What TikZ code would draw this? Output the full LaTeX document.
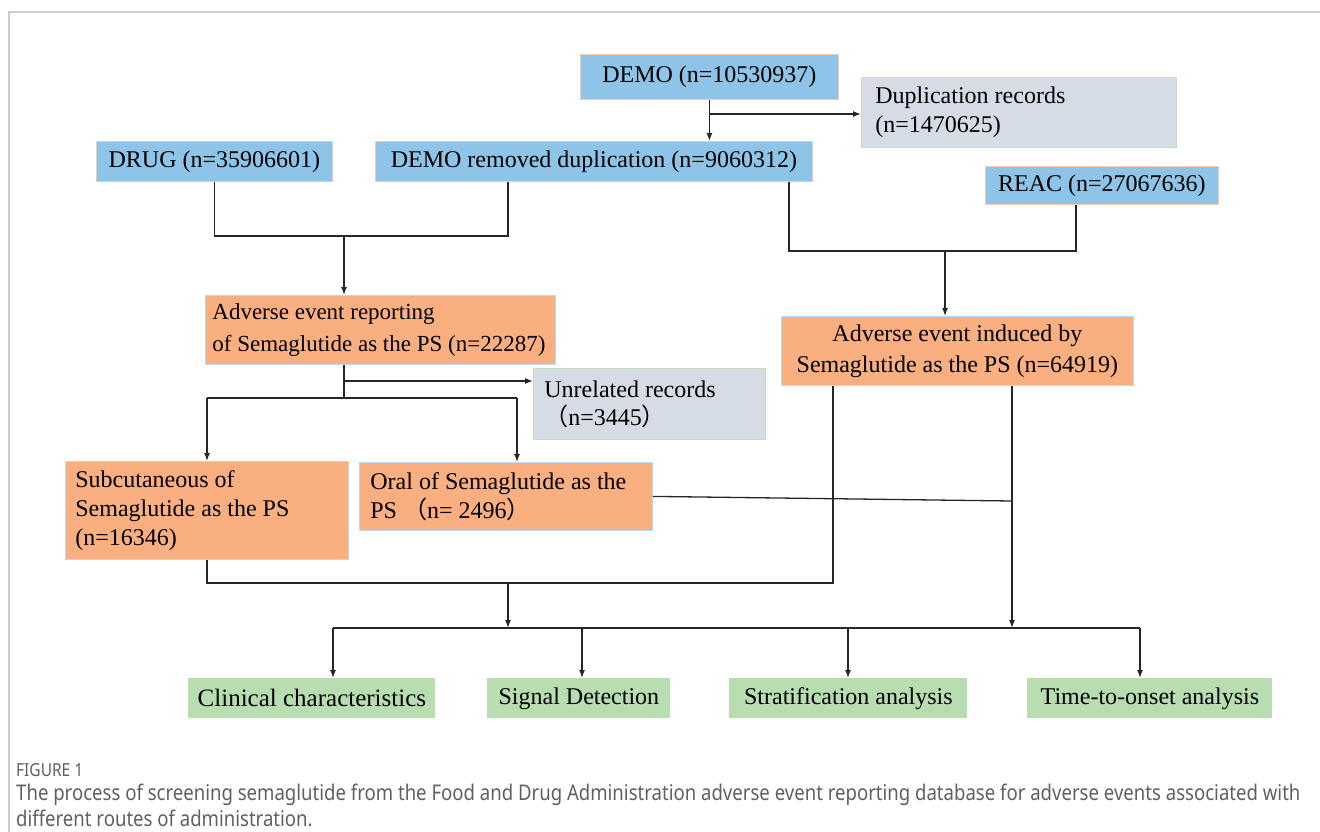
\documentclass[tikz,border=0pt]{standalone}
\usepackage{fontspec}
\setmainfont{Liberation Serif}
\newfontfamily\capfont[FakeStretch=0.86]{Noto Sans}
\newfontfamily\cjk{Noto Sans CJK SC}
\usetikzlibrary{arrows.meta}
\definecolor{bluefill}{HTML}{8DC4E8}
\definecolor{peach}{HTML}{F6C9AA}
\definecolor{orangefill}{HTML}{F9AF7F}
\definecolor{lightblue}{HTML}{BDD7EE}
\definecolor{grayfill}{HTML}{D6DCE5}
\definecolor{lightgreen}{HTML}{C5E0B4}
\definecolor{greenfill}{HTML}{B7DDB0}
\definecolor{framegray}{HTML}{CCCCCC}
\definecolor{captext}{HTML}{606060}
\begin{document}
\begin{tikzpicture}[x=1pt,y=-1pt,
  box/.style={line width=0.8pt, inner sep=0pt, anchor=north west, font=\fontsize{24}{29}\selectfont},
  bluebox/.style={box, fill=bluefill, draw=peach},
  orangebox/.style={box, fill=orangefill, draw=lightblue},
  graybox/.style={box, fill=grayfill, draw=lightgreen},
  greenbox/.style={box, fill=greenfill, draw=none},
  conn/.style={line width=1.3pt, draw=black!85},
  arr/.style={conn, -{Latex[length=8pt,width=6pt]}}
]
\useasboundingbox (0,0) rectangle (1320,832);
\draw[framegray, line width=1.2pt] (9,832) -- (9,12) -- (1320,12);

% top row
\node[bluebox, minimum width=258, minimum height=45] (demo) at (580,54) {DEMO (n=10530937)};
\node[graybox, minimum width=315, minimum height=70, text width=287, align=flush left] (dup) at (861,77) {Duplication records\\(n=1470625)};
\node[bluebox, minimum width=236, minimum height=40] (drug) at (96,141) {DRUG (n=35906601)};
\node[bluebox, minimum width=437, minimum height=40] (demorem) at (375,141) {DEMO removed duplication (n=9060312)};
\node[bluebox, minimum width=233, minimum height=38] (reac) at (985,166) {REAC (n=27067636)};

% middle
\node[orangebox, minimum width=350, minimum height=69, text width=336, align=flush left, font=\fontsize{23}{32}\selectfont] (rep) at (205,295) {Adverse event reporting\\of Semaglutide as the PS (n=22287)};
\node[orangebox, minimum width=352, minimum height=69, align=center, font=\fontsize{24}{31}\selectfont] (ind) at (781,316) {Adverse event induced by\\Semaglutide as the PS (n=64919)};
\node[graybox, minimum width=232, minimum height=71, text width=210, align=flush left, font=\fontsize{24}{28}\selectfont] (unrel) at (533,368) {Unrelated records\\{\cjk （}n=3445{\cjk ）}};
\node[orangebox, minimum width=283, minimum height=98, text width=263, align=flush left] (sub) at (65,461) {Subcutaneous of\\Semaglutide as the PS\\(n=16346)};
\node[orangebox, minimum width=293, minimum height=68, text width=271, align=flush left] (oral) at (359,462) {Oral of Semaglutide as the\\PS {\cjk （}n= 2496{\cjk ）}};

% bottom
\node[greenbox, minimum width=247, minimum height=40, font=\fontsize{25}{29}\selectfont] (clin) at (188,678) {Clinical characteristics};
\node[greenbox, minimum width=183, minimum height=40] (sig) at (487,678) {Signal Detection};
\node[greenbox, minimum width=238, minimum height=40] (strat) at (729,678) {Stratification analysis};
\node[greenbox, minimum width=245, minimum height=40] (time) at (1027,678) {Time-to-onset analysis};

% connectors top
\draw[arr] (demo.south) -- (demo.south |- demorem.north);
\draw[arr] (demo.south |- 0,114) -- (dup.west |- 0,114);
\draw[conn] (drug.south) |- (508,236) -- (demorem.south -| 508,0);
\draw[arr] (344,236) -- (rep.north -| 344,0);
\draw[conn] (demorem.south -| 789,0) |- (1076,251) -- (reac.south -| 1076,0);
\draw[arr] (945,251) -- (ind.north -| 945,0);

% connectors middle
\draw[conn] (rep.south -| 344,0) -- (344,398);
\draw[arr] (344,381) -- (unrel.west |- 0,381);
\draw[conn] (207,398) -- (517,398);
\draw[arr] (207,398) -- (sub.north -| 207,0);
\draw[arr] (517,398) -- (oral.north -| 517,0);

\draw[conn] (ind.south -| 833,0) |- (207,583) -- (sub.south -| 207,0);
\draw[arr] (508,583) -- (508,628);
\draw[conn] (oral.east) -- (1012,501);
\draw[arr] (ind.south -| 1012,0) -- (1012,628);

% distribution line
\draw[conn] (333,628) -- (1140,628);
\draw[arr] (333,628) -- (clin.north -| 333,0);
\draw[arr] (582,628) -- (sig.north -| 582,0);
\draw[arr] (848,628) -- (strat.north -| 848,0);
\draw[arr] (1140,628) -- (time.north -| 1140,0);

% caption
\node[anchor=west, inner sep=0pt, text=captext, font=\capfont\fontsize{18}{20}\selectfont] (figlab) at (16,770) {FIGURE 1};
\node[anchor=north west, inner sep=0pt, text width=1300, align=flush left, text=captext, font=\capfont\fontsize{21.6}{26}\selectfont] (cap) at (16,784) {The process of screening semaglutide from the Food and Drug Administration adverse event reporting database for adverse events associated with\\different routes of administration.};
\end{tikzpicture}
\end{document}
